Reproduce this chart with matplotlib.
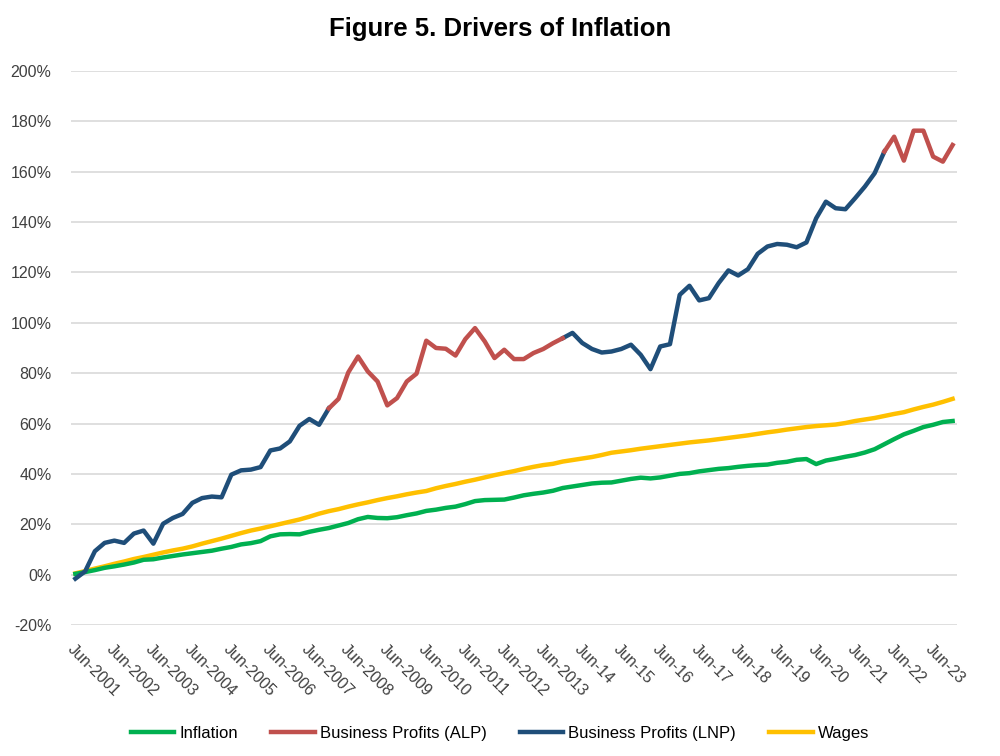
import numpy as np
import matplotlib.pyplot as plt

# Quarterly series, Jun-2001 to Dec-2023 (cumulative % change)
tick_labels = ["Jun-2001", "Jun-2002", "Jun-2003", "Jun-2004", "Jun-2005", "Jun-2006",
               "Jun-2007", "Jun-2008", "Jun-2009", "Jun-2010", "Jun-2011", "Jun-2012",
               "Jun-2013", "Jun-14", "Jun-15", "Jun-16", "Jun-17", "Jun-18", "Jun-19",
               "Jun-20", "Jun-21", "Jun-22", "Jun-23"]

inflation = [0.3, 1.0, 1.8, 2.7, 3.3, 4.0, 4.8, 5.9, 6.1, 6.8,
             7.4, 8.0, 8.5, 9.0, 9.5, 10.3, 11.0, 12.0, 12.5, 13.3,
             15.2, 16.0, 16.1, 16.0, 17.0, 17.8, 18.5, 19.5, 20.5, 22.0,
             22.9, 22.5, 22.4, 22.8, 23.6, 24.3, 25.3, 25.8, 26.5, 27.0,
             28.0, 29.2, 29.6, 29.7, 29.8, 30.6, 31.5, 32.1, 32.6, 33.3,
             34.4, 35.0, 35.6, 36.2, 36.5, 36.6, 37.3, 38.0, 38.5, 38.2,
             38.6, 39.3, 40.0, 40.3, 41.0, 41.5, 42.0, 42.3, 42.8, 43.2,
             43.5, 43.7, 44.4, 44.8, 45.6, 45.9, 43.9, 45.3, 46.0, 46.8,
             47.5, 48.5, 49.8, 51.8, 53.8, 55.7, 57.1, 58.6, 59.5, 60.6,
             61.0]

wages = [0.5, 1.4, 2.4, 3.3, 4.3, 5.2, 6.2, 7.0, 7.9, 8.8,
         9.6, 10.3, 11.2, 12.3, 13.3, 14.3, 15.4, 16.5, 17.5, 18.3,
         19.2, 20.1, 21.0, 21.9, 23.0, 24.2, 25.2, 26.0, 27.0, 27.9,
         28.7, 29.6, 30.4, 31.1, 31.9, 32.6, 33.2, 34.3, 35.2, 36.0,
         36.9, 37.7, 38.6, 39.5, 40.3, 41.1, 42.0, 42.8, 43.5, 44.0,
         44.9, 45.5, 46.1, 46.7, 47.5, 48.4, 48.9, 49.4, 50.0, 50.5,
         51.0, 51.5, 52.0, 52.5, 52.9, 53.3, 53.8, 54.3, 54.8, 55.3,
         55.9, 56.5, 57.0, 57.6, 58.1, 58.6, 59.0, 59.3, 59.6, 60.2,
         61.0, 61.6, 62.2, 63.0, 63.8, 64.5, 65.6, 66.6, 67.5, 68.6,
         69.8]

profits = [-1.6, 1.3, 9.3, 12.6, 13.5, 12.6, 16.3, 17.5, 12.3, 20.2,
           22.5, 24.1, 28.5, 30.4, 31.0, 30.7, 39.7, 41.4, 41.7, 42.7,
           49.3, 50.1, 52.9, 59.1, 61.8, 59.5, 66.0, 69.8, 80.3, 86.6,
           80.7, 76.7, 67.2, 70.1, 76.7, 79.8, 92.9, 90.0, 89.7, 87.0,
           93.5, 97.9, 92.6, 86.0, 89.3, 85.6, 85.6, 88.0, 89.6, 91.9,
           93.9, 96.0, 92.0, 89.6, 88.2, 88.6, 89.6, 91.3, 87.3, 81.6,
           90.6, 91.5, 111.1, 114.7, 108.9, 109.8, 115.8, 120.8, 118.8, 121.3,
           127.4, 130.3, 131.3, 131.0, 130.0, 131.9, 141.5, 148.1, 145.5, 145.1,
           149.5, 154.1, 159.4, 168.0, 173.9, 164.4, 176.3, 176.3, 166.0, 164.0,
           170.6]

# quarters (index ranges) with an ALP government
alp_periods = [(26, 50), (83, 90)]

x = np.arange(len(profits))
profits = np.array(profits)
alp_mask = np.zeros(len(profits), dtype=bool)
for a, b in alp_periods:
    alp_mask[a:b + 1] = True
lnp_mask = ~alp_mask
for a, b in alp_periods:
    lnp_mask[a] = True
    if b < len(profits) - 1:
        lnp_mask[b] = True
alp = np.where(alp_mask, profits, np.nan)
lnp = np.where(lnp_mask, profits, np.nan)

plt.rcParams['font.family'] = ['Liberation Sans', 'DejaVu Sans']

fig = plt.figure(figsize=(10, 7.56), dpi=100)
ax = fig.add_axes([0.071, 0.1733, 0.886, 0.7328])

lw = 3.2
ax.plot(x, wages, color="#FFC000", lw=lw, label="Wages", zorder=3)
ax.plot(x, inflation, color="#00B050", lw=lw, label="Inflation", zorder=4)
ax.plot(x, lnp, color="#1F4E79", lw=lw, label="Business Profits (LNP)", zorder=5)
ax.plot(x, alp, color="#C0504D", lw=lw, label="Business Profits (ALP)", zorder=5)

ax.set_ylim(-20, 200)
ax.set_xlim(-0.45, len(profits) - 0.55)
ax.set_yticks(range(-20, 201, 20))
ax.set_yticklabels([f"{v}%" for v in range(-20, 201, 20)], fontsize=11.5, color="#404040")
ax.set_xticks(x[::4][:len(tick_labels)])
ax.set_xticklabels(tick_labels, rotation=-45, ha="left", va="top",
                   rotation_mode="anchor", fontsize=11.5, color="#404040")
ax.tick_params(axis="both", length=0)
ax.tick_params(axis="x", pad=12)
ax.tick_params(axis="y", pad=14)
ax.grid(axis="y", color="#D9D9D9", lw=1.2)
ax.set_axisbelow(True)
for s in ax.spines.values():
    s.set_visible(False)

fig.suptitle("Figure 5. Drivers of Inflation", fontsize=18.5, fontweight="bold", y=0.977)

h, l = ax.get_legend_handles_labels()
order = [1, 3, 2, 0]
fig.legend([h[i] for i in order], [l[i] for i in order], loc="lower center",
           bbox_to_anchor=(0.5, 0.0), ncol=4, frameon=False, fontsize=12,
           handlelength=2.6, columnspacing=2.0, handletextpad=0.3)

fig.savefig("out.png", dpi=100)
